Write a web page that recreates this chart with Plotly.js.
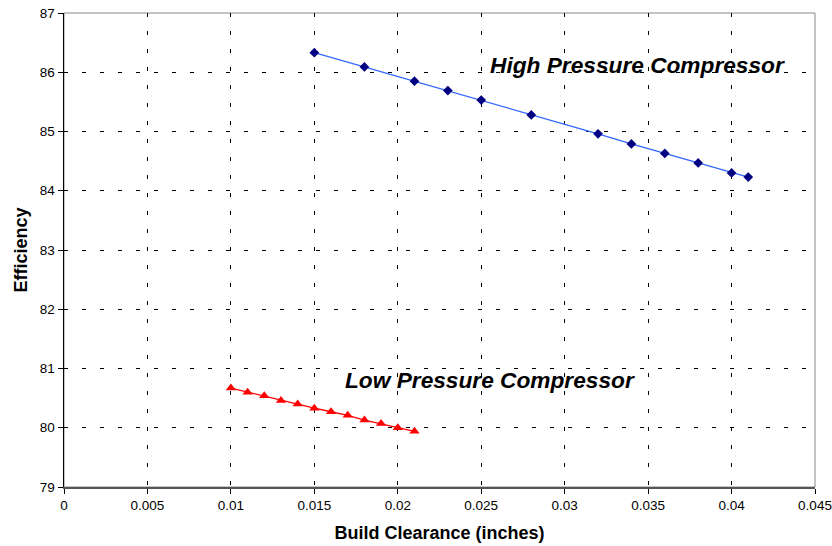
<!DOCTYPE html>
<html>
<head>
<meta charset="utf-8">
<script src="https://cdn.plot.ly/plotly-3.0.1.min.js"></script>
<style>html,body{margin:0;padding:0;background:#fff;}#chart{width:832px;height:546px;}</style>
</head>
<body>
<div id="chart"></div>
<script>
const hpcClearance = [0.015, 0.018, 0.021, 0.023, 0.025, 0.028, 0.032, 0.034, 0.036, 0.038, 0.040, 0.041];
const hpcEfficiency = [86.33, 86.09, 85.85, 85.69, 85.53, 85.28, 84.96, 84.79, 84.63, 84.47, 84.30, 84.23];
const lpcClearance = [0.010, 0.011, 0.012, 0.013, 0.014, 0.015, 0.016, 0.017, 0.018, 0.019, 0.020, 0.021];
const lpcEfficiency = [80.67, 80.60, 80.54, 80.46, 80.40, 80.33, 80.27, 80.21, 80.13, 80.07, 80.00, 79.94];
const xTicks = [0, 0.005, 0.01, 0.015, 0.02, 0.025, 0.03, 0.035, 0.04, 0.045];
const xTickLabels = ['0', '0.005', '0.01', '0.015', '0.02', '0.025', '0.03', '0.035', '0.04', '0.045'];
const yTicks = [79, 80, 81, 82, 83, 84, 85, 86, 87];
const labels = ['High Pressure Compressor', 'Low Pressure Compressor'];
const labelPos = [[0.0254, 86.13], [0.0167, 80.80]];

const traces = [
  {
    x: hpcClearance, y: hpcEfficiency, type: 'scatter', mode: 'lines+markers',
    line: {color: '#3366ff', width: 1.3},
    marker: {symbol: 'diamond', size: 7.5, color: '#000080'},
    showlegend: false, hoverinfo: 'x+y'
  },
  {
    x: lpcClearance, y: lpcEfficiency, type: 'scatter', mode: 'lines+markers',
    line: {color: '#ff0000', width: 1.3},
    marker: {symbol: 'triangle-up', size: 9, color: '#ff0000'},
    showlegend: false, hoverinfo: 'x+y'
  }
];

const gridStyle = {showgrid: true, gridcolor: '#000', gridwidth: 1, griddash: '4px,14px'};

const layout = {
  width: 832, height: 546,
  margin: {l: 64, r: 17, t: 13, b: 59},
  paper_bgcolor: '#fff', plot_bgcolor: '#fff',
  font: {family: 'Arial, "Liberation Sans", sans-serif', color: '#000', size: 13.5},
  xaxis: Object.assign({
    range: [0, 0.045], tickvals: xTicks, ticktext: xTickLabels,
    ticks: 'outside', ticklen: 5, tickcolor: '#000', tickwidth: 1,
    showline: true, linecolor: '#555', linewidth: 2, zeroline: false,
    tickfont: {size: 13.5},
    title: {text: '<b>Build Clearance (inches)</b>', font: {size: 18}, standoff: 14}
  }, gridStyle),
  yaxis: Object.assign({
    range: [79, 87], tickvals: yTicks,
    ticks: 'outside', ticklen: 5, tickcolor: '#000', tickwidth: 1,
    showline: true, linecolor: '#000', linewidth: 1.5, zeroline: false,
    tickfont: {size: 13.5},
    title: {text: '<b>Efficiency</b>', font: {size: 18}, standoff: 7}
  }, gridStyle),
  shapes: [{
    type: 'rect', xref: 'paper', yref: 'paper', x0: 0, x1: 1, y0: 0, y1: 1,
    line: {color: '#888', width: 1}, layer: 'below'
  }],
  annotations: labels.map((t, i) => ({
    text: '<b><i>' + t + '</i></b>', x: labelPos[i][0], y: labelPos[i][1],
    xref: 'x', yref: 'y', xanchor: 'left', yanchor: 'middle', showarrow: false,
    font: {size: 22.7, color: '#000'}
  }))
};

Plotly.newPlot('chart', traces, layout, {displayModeBar: false, staticPlot: true});
</script>
</body>
</html>
